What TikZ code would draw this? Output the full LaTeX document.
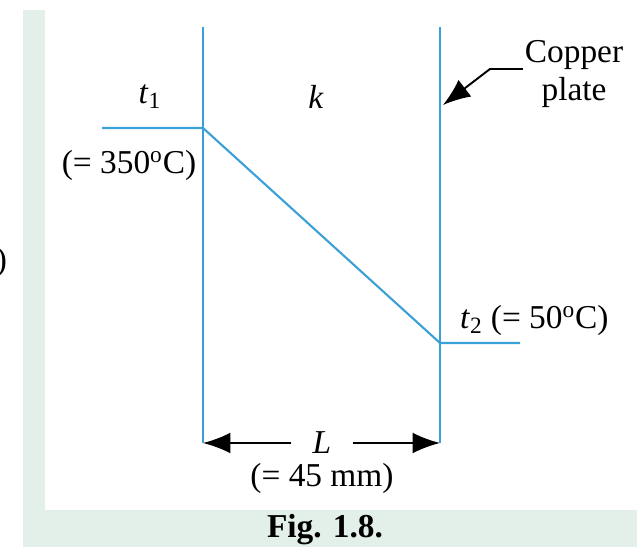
\documentclass[tikz,border=0pt]{standalone}
\usepackage{fontspec}
\setmainfont{Liberation Serif}
\usetikzlibrary{positioning, arrows.meta}
\definecolor{plateblue}{RGB}{58,160,216}
\definecolor{framegreen}{RGB}{226,240,233}
\tikzset{
  plate/.style={draw=plateblue, line width=1.5pt},
  lbl/.style={font=\fontsize{19}{22}\selectfont, inner sep=1pt},
  dim/.style={draw=black, line width=1.1pt, -{Latex[length=0.55cm, width=0.42cm]}}}

\begin{document}
\begin{tikzpicture}[x=0.02cm, y=-0.02cm]
  \useasboundingbox (0,0) rectangle (637,547);
  % frame
  \fill[framegreen] (23,10) rectangle (45,547);
  \fill[framegreen] (23,510) rectangle (637,547);
  \node[lbl, anchor=east] (cut) at (9,262) {)};
  \coordinate (ltop) at (203,27);
  \coordinate (lbot) at (203,443);
  \coordinate (rtop) at (440,27);
  \coordinate (rbot) at (440,443);
  \coordinate (hot) at (203,128);
  \coordinate (hotend) at (102,128);
  \coordinate (cold) at (440,343);
  \coordinate (coldend) at (520,343);
  % plates and temperature line
  \draw[plate] (ltop) -- (lbot);
  \draw[plate] (rtop) -- (rbot);
  \draw[plate, line width=1.2pt] (hotend) -- (hot) -- (cold) -- (coldend);
  \node[lbl] (t1) at (150,97) {\textit{t}\textsubscript{1}};
  \node[lbl] (k) at (316,97) {\textit{k}};
  \node[lbl] (t1val) at (129,165) {(= 350\textsuperscript{o}C)};
  \node[lbl, anchor=west] (t2) at (458,320) {\textit{t}\textsubscript{2} (= 50\textsuperscript{o}C)};
  % copper plate
  \node[lbl, align=center] (cu) at (574,74) {Copper\\plate};
  \coordinate (cuarr) at (490,69);
  \coordinate (cutip) at (443,105);
  \draw[dim] (cu.west |- cuarr) -- (cuarr) -- (cutip);
  % thickness
  \node[lbl, inner xsep=0.42cm] (L) at (322,443) {\textit{L}};
  \node[lbl] (Lval) at (322,478) {(= 45 mm)};
  \draw[dim] (L.west) -- (lbot);
  \draw[dim] (L.east) -- (rbot);
  \node[lbl, font=\fontsize{19}{22}\selectfont\bfseries] (fig) at (325,530) {Fig. 1.8.};
\end{tikzpicture}
\end{document}
